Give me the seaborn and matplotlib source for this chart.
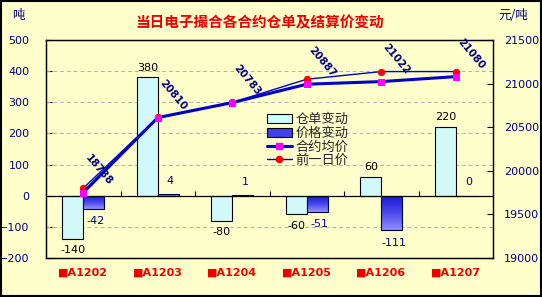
import numpy as np
import pandas as pd
import matplotlib
matplotlib.use("Agg")
import matplotlib.pyplot as plt
import seaborn as sns
from matplotlib.colors import LinearSegmentedColormap
from matplotlib.patches import Patch, Rectangle
from matplotlib.lines import Line2D

# ---- data ----
categories = ["A1202", "A1203", "A1204", "A1205", "A1206", "A1207"]
cat_labels = ["■A1202", "■A1203", "■A1204", "■A1205", "■A1206", "■A1207"]
receipt_change = [-140, 380, -80, -60, 60, 220]     # 仓单变动
price_change = [-42, 4, 1, -51, -111, 0]             # 价格变动
avg_price = [19750, 20610, 20782, 20993, 21023, 21080]   # 合约均价
prev_price = [19800, 20612, 20784, 21050, 21138, 21138]  # 前一日价
price_text = ["18738", "20810", "20783", "20887", "21022", "21080"]

sns.set_theme(style="white")
plt.rcParams['font.family'] = ['DejaVu Sans', 'Noto Sans CJK SC']
CJK = ['Noto Sans CJK SC', 'DejaVu Sans']

BG = "#FFFFCC"
NAVY = "#000080"

fig = plt.figure(figsize=(5.42, 2.97), dpi=100, facecolor=BG)
ax = fig.add_axes([46/542, 1-258/297, (493-46)/542, (258-40)/297])
ax.set_facecolor(BG)

df = pd.DataFrame({
    "cat": categories * 2,
    "val": receipt_change + price_change,
    "series": ["仓单变动"] * len(categories) + ["价格变动"] * len(categories),
})
sns.barplot(data=df, x="cat", y="val", hue="series", order=categories,
            hue_order=["仓单变动", "价格变动"],
            palette=["#CCFFFF", "#4040E8"], width=0.56, gap=0,
            edgecolor="black", linewidth=0.8, legend=False, ax=ax, zorder=3)

ax.set_ylim(-200, 500)
ax.set_xlim(-0.5, len(categories) - 0.5)

# gradient on price-change bars
cmap = LinearSegmentedColormap.from_list("g", ["#1818D8", "#4848EC", "#9090FF"])
grad = np.linspace(0, 1, 64).reshape(-1, 1)
for p in ax.containers[1]:
    x0, w = p.get_x(), p.get_width()
    y0, h = p.get_y(), p.get_height()
    lo, hi = min(y0, y0 + h), max(y0, y0 + h)
    if hi - lo <= 0:
        continue
    im = ax.imshow(grad, cmap=cmap, extent=[x0, x0 + w, lo, hi], aspect='auto',
                   origin='upper', zorder=3.5)
    im.set_clip_path(p)
    p.set_facecolor("none")
    p.set_edgecolor("#000040")
    p.set_zorder(4)
ax.set_ylim(-200, 500)
ax.set_xlim(-0.5, len(categories) - 0.5)
ax.set_aspect('auto')

# bar labels
for i, p in enumerate(ax.containers[0]):
    v = receipt_change[i]
    ax.annotate(f"{v}", (p.get_x() + p.get_width()/2, v),
                xytext=(0, 7 if v >= 0 else -8), textcoords="offset points",
                ha="center", va="center", fontsize=8, color="black", zorder=6)
for i, p in enumerate(ax.containers[1]):
    v = price_change[i]
    ax.annotate(f"{v}", (p.get_x() + p.get_width()/2 + 0.03, v),
                xytext=(0, 10 if v >= 0 else -9), textcoords="offset points",
                ha="center", va="center", fontsize=8, color=NAVY, zorder=6)

# grid and zero line
for g in [400, 300, 200, 100, -100]:
    ax.axhline(g, color="#B0B0B0", lw=0.7, ls=(0, (4, 3)), zorder=1)
ax.axhline(0, color="black", lw=0.9, zorder=5)
ax.vlines(np.arange(len(categories) - 1) + 0.5, 0, 16, color="black", lw=0.8, zorder=5)

ax.set_yticks([500, 400, 300, 200, 100, 0, -100, -200])
ax.tick_params(axis='y', colors="black", labelcolor=NAVY, labelsize=8,
               direction='in', length=4, width=0.8, left=True, pad=12)
ax.set_xticks(range(len(categories)))
ax.set_xticklabels(cat_labels, color="#EE0000", fontsize=8, fontweight='bold')
ax.tick_params(axis='x', length=0, pad=7)
ax.set_xlabel("")
ax.set_ylabel("")
for s in ax.spines.values():
    s.set_color("black")
    s.set_linewidth(0.9)

# price lines on secondary axis
ax2 = ax.twinx()
ldf = pd.DataFrame({"pos": np.arange(len(categories)), "avg": avg_price, "prev": prev_price})
sns.lineplot(data=ldf, x="pos", y="prev", ax=ax2, color="#0000CC", lw=1.0,
             marker="o", markersize=4.5, markerfacecolor="#FF0000",
             markeredgecolor="#FF0000", zorder=4)
sns.lineplot(data=ldf, x="pos", y="avg", ax=ax2, color="#0000CC", lw=2.2,
             marker="s", markersize=4, markerfacecolor="#FF00FF",
             markeredgecolor="#FF00FF", zorder=5)
ax2.set_ylim(19000, 21500)
ax2.set_xlim(-0.5, len(categories) - 0.5)
ax2.set_yticks([19000, 19500, 20000, 20500, 21000, 21500])
ax2.tick_params(axis='y', colors="black", labelcolor=NAVY, labelsize=8,
                direction='in', length=4, width=0.8, right=True, pad=8)
ax2.set_ylabel("")
ax2.set_xlabel("")
ax2.grid(False)
for s in ax2.spines.values():
    s.set_color("black")
    s.set_linewidth(0.9)

for i, t in enumerate(price_text):
    ax2.annotate(t, (i, avg_price[i]), xytext=(11, 16), textcoords="offset points",
                 rotation=-50, ha="center", va="center", fontsize=7.5,
                 fontweight="bold", color=NAVY, zorder=7)

# legend
handles = [
    Patch(facecolor="#CCFFFF", edgecolor="black", lw=0.8),
    Patch(facecolor="#4040E8", edgecolor="black", lw=0.8),
    Line2D([], [], color="#0000CC", lw=2.2, marker="s", markersize=4,
           markerfacecolor="#FF00FF", markeredgecolor="#FF00FF"),
    Line2D([], [], color="#0000CC", lw=1.0, marker="o", markersize=4.5,
           markerfacecolor="#FF0000", markeredgecolor="#FF0000"),
]
leg = ax2.legend(handles, ["仓单变动", "价格变动", "合约均价", "前一日价"],
                 loc="upper left", bbox_to_anchor=(0.479, 0.695),
                 frameon=False, prop={'family': CJK, 'size': 9.5},
                 handlelength=1.9, handletextpad=0.3, labelspacing=0.05,
                 borderpad=0)

# titles
fig.text(0.48, 0.925, "当日电子撮合各合约仓单及结算价变动", ha="center", va="center",
         fontsize=10.5, fontweight="bold", color="#EE0000", family=CJK)
fig.text(0.022, 0.948, "吨", ha="left", va="center", fontsize=9, color=NAVY, family=CJK)
fig.text(0.975, 0.948, "元/吨", ha="right", va="center", fontsize=9, color=NAVY, family=CJK)

fig.patches.append(Rectangle((0.001, 0.002), 0.997, 0.995, transform=fig.transFigure,
                             fill=False, edgecolor="black", lw=1.5))

fig.savefig("out.png", dpi=100, facecolor=BG)
